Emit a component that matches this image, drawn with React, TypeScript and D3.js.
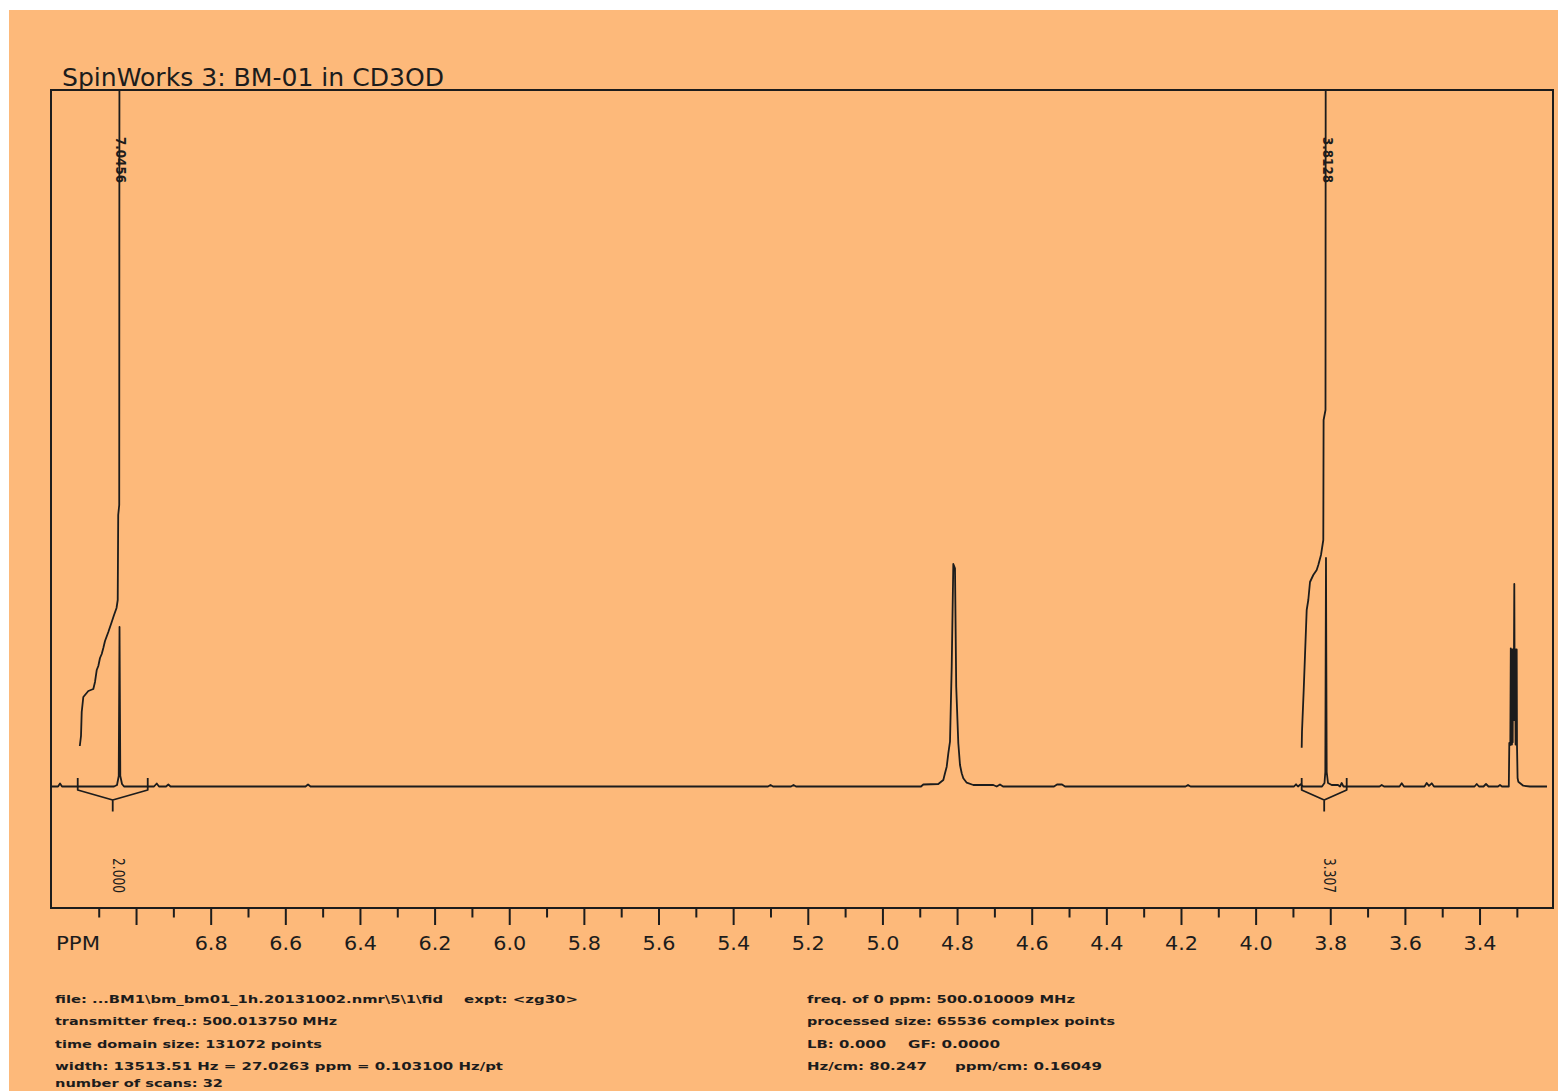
import React from "react";
import * as d3 from "d3";

// ---------- page + frame ----------
const WIDTH = 1558;
const HEIGHT = 1091;
const PAPER = "#fdb97a";
const INK = "#1c1c1c";

const TITLE = "SpinWorks 3: BM-01 in CD3OD";

// ---------- chemical shift axis ----------
const majorTicks = [7.0, 6.8, 6.6, 6.4, 6.2, 6.0, 5.8, 5.6, 5.4, 5.2, 5.0, 4.8, 4.6, 4.4, 4.2, 4.0, 3.8, 3.6, 3.4];
const minorTicks = [7.1, 6.9, 6.7, 6.5, 6.3, 6.1, 5.9, 5.7, 5.5, 5.3, 5.1, 4.9, 4.7, 4.5, 4.3, 4.1, 3.9, 3.7, 3.5, 3.3];
const labelTicks = [6.8, 6.6, 6.4, 6.2, 6.0, 5.8, 5.6, 5.4, 5.2, 5.0, 4.8, 4.6, 4.4, 4.2, 4.0, 3.8, 3.6, 3.4];
const tickLabels = ["6.8", "6.6", "6.4", "6.2", "6.0", "5.8", "5.6", "5.4", "5.2", "5.0", "4.8", "4.6", "4.4", "4.2", "4.0", "3.8", "3.6", "3.4"];
const AXIS_UNIT = "PPM";

// ---------- 1H spectrum trace (ppm, relative intensity) ----------
const specPpm = [
  7.2265, 7.2104, 7.205, 7.1997, 7.0603, 7.0523, 7.0477, 7.0456, 7.0435, 7.0389, 7.0335,
  6.9532, 6.9459, 6.9398, 6.921, 6.9148, 6.9089, 6.5472, 6.5405, 6.5338,
  5.3079, 5.3012, 5.2945, 5.2463, 5.2396, 5.2329,
  4.898, 4.8918, 4.8516, 4.8382, 4.8337, 4.8291, 4.8248, 4.8203, 4.8157, 4.8114, 4.8069, 4.8036,
  4.798, 4.7935, 4.7889, 4.7846, 4.7755, 4.7578, 4.7042, 4.6951, 4.6863, 4.6782,
  4.5416, 4.5335, 4.5201, 4.5121, 4.1892, 4.1825, 4.1758,
  3.8985, 3.8931, 3.8878, 3.8805, 3.8744, 3.8235, 3.8168, 3.8146, 3.8128, 3.8109, 3.8074,
  3.7975, 3.7806, 3.7752, 3.7707, 3.7659, 3.6694, 3.6635, 3.6573, 3.6158, 3.6099, 3.6038,
  3.5488, 3.5429, 3.5368, 3.5295, 3.5234, 3.4148, 3.4089, 3.4028, 3.3907, 3.384, 3.3773,
  3.3519, 3.3465, 3.3412,
  3.3229, 3.3216, 3.3189, 3.3176, 3.3165, 3.3155, 3.3145, 3.3135, 3.3125, 3.3115, 3.31,
  3.3082, 3.307, 3.3058, 3.3048, 3.3038, 3.3028, 3.3018, 3.301,
  3.2994, 3.2975, 3.2841, 3.2661, 3.2206,
];
const specInt = [
  0, 0, 0.0136, 0, 0, 0.0068, 0.0475, 0.722, 0.0475, 0.0113, 0,
  0, 0.0136, 0, 0, 0.009, 0, 0, 0.009, 0,
  0, 0.007, 0, 0, 0.007, 0,
  0, 0.009, 0.0113, 0.0294, 0.0597, 0.0896, 0.1502, 0.2027, 0.5421, 1.007, 0.9873, 0.4516,
  0.1955, 0.0973, 0.0597, 0.0371, 0.0172, 0.0068, 0.0068, 0, 0.009, 0,
  0, 0.009, 0.009, 0, 0, 0.007, 0,
  0, 0.01, 0, 0.01, 0, 0, 0.0158, 0.0656, 1.034, 0.0656, 0.0158,
  0.0068, 0.0068, 0, 0.0158, 0, 0, 0.0068, 0, 0, 0.0145, 0,
  0, 0.0158, 0.003, 0.0145, 0, 0, 0.0113, 0, 0, 0.0113, 0,
  0, 0.0068, 0,
  0, 0.1968, 0.1878, 0.6253, 0.19, 0.62, 0.19, 0.62, 0.2, 0.62, 0.3,
  0.9163, 0.3, 0.62, 0.19, 0.62, 0.19, 0.62, 0.1878,
  0.0385, 0.0217, 0.0036, 0, 0,
];

// ---------- integral traces ----------
const integ1Ppm = [7.152, 7.1488, 7.1469, 7.1426, 7.1292, 7.1158, 7.1113, 7.1067, 7.1024, 7.0979, 7.0933, 7.089, 7.0845, 7.0756, 7.0665, 7.0603, 7.0536, 7.0504, 7.0491, 7.0464, 7.0456];
const integ1Val = [0.1833, 0.2285, 0.3371, 0.405, 0.4321, 0.4412, 0.4729, 0.5271, 0.5452, 0.5814, 0.5995, 0.6267, 0.6584, 0.6991, 0.7443, 0.776, 0.8077, 0.8439, 1.2285, 1.2738, 4.0];
const integ2Ppm = [3.8779, 3.8771, 3.8725, 3.869, 3.8645, 3.8602, 3.8556, 3.8468, 3.8377, 3.8334, 3.8262, 3.82, 3.8192, 3.8141, 3.8133];
const integ2Val = [0.1756, 0.248, 0.4367, 0.595, 0.7986, 0.8439, 0.9253, 0.957, 0.9796, 1.0023, 1.0475, 1.1154, 1.6584, 1.7036, 4.0];

// integration regions (ppm) and their values
const integFrom = [7.1576, 3.8779];
const integTo = [6.97, 3.7573];
const integLabels = ["2.000", "3.307"];

// picked peaks
const peakPpm = [7.0456, 3.8128];
const peakLabels = ["7.0456", "3.8128"];

// ---------- acquisition / processing parameters ----------
const leftInfo = [
  "transmitter freq.: 500.013750 MHz",
  "time domain size: 131072 points",
  "width: 13513.51 Hz = 27.0263 ppm = 0.103100 Hz/pt",
  "number of scans: 32",
];
const leftInfoWidths = [282, 267, 448, 168];
const fileLine = "file: ...BM1\\bm_bm01_1h.20131002.nmr\\5\\1\\fid";
const exptLine = "expt: <zg30>";
const rightInfo = [
  "freq. of 0 ppm: 500.010009 MHz",
  "processed size: 65536 complex points",
];
const rightInfoWidths = [268, 308];
const lbText = "LB: 0.000";
const gfText = "GF: 0.0000";
const hzcmText = "Hz/cm: 80.247";
const ppmcmText = "ppm/cm: 0.16049";

export default function App() {
  const L = 51, T = 90, R = 1553, B = 908;

  const x = d3.scaleLinear().domain([7.2292, 3.2045]).range([L, R]);
  const y = d3.scaleLinear().domain([-0.5498, 3.1516]).range([B, T]);

  const line = d3
    .line<[number, number]>()
    .x((d) => x(d[0]))
    .y((d) => y(d[1]));

  const spectrum = line(specPpm.map((p, i) => [p, specInt[i]] as [number, number])) || "";
  const integ1 = line(integ1Ppm.map((p, i) => [p, integ1Val[i]] as [number, number])) || "";
  const integ2 = line(integ2Ppm.map((p, i) => [p, integ2Val[i]] as [number, number])) || "";

  const y0 = y(0);

  const bracket = (from: number, to: number) => {
    const xl = x(from);
    const xr = x(to);
    const xc = (xl + xr) / 2;
    return (
      `M${xl},${y0 - 8.5}V${y0 + 3.5}L${xc},${y0 + 13.5}V${y0 + 25}` +
      `M${xc},${y0 + 13.5}L${xr},${y0 + 3.5}M${xr},${y0 - 8.5}V${y0 + 4}`
    );
  };

  const font = "'DejaVu Sans', Verdana, sans-serif";
  const rowY = [1002.5, 1025, 1047.5, 1070, 1087];

  return (
    <svg
      width={WIDTH}
      height={HEIGHT}
      viewBox={`0 0 ${WIDTH} ${HEIGHT}`}
      style={{ position: "absolute", left: 0, top: 0, display: "block" }}
    >
      <defs>
        <clipPath id="plot-area">
          <rect x={L} y={T} width={R - L} height={B - T} />
        </clipPath>
      </defs>
      <rect x={0} y={0} width={WIDTH} height={HEIGHT} fill="#ffffff" />
      <rect x={9} y={10} width={WIDTH - 9} height={HEIGHT - 10} fill={PAPER} />

      {/* title */}
      <text x={62} y={86} fontFamily={font} fontSize={24} fill={INK} textLength={382} lengthAdjust="spacingAndGlyphs">
        {TITLE}
      </text>

      {/* spectrum, integrals */}
      <g clipPath="url(#plot-area)" fill="none" stroke={INK} strokeWidth={1.8} strokeLinejoin="round">
        <path d={spectrum} />
        <path d={integ1} />
        <path d={integ2} />
        {integFrom.map((f, i) => (
          <path key={i} d={bracket(f, integTo[i])} />
        ))}
      </g>

      {/* peak labels */}
      {peakPpm.map((p, i) => (
        <text
          key={i}
          transform={`translate(${x(p) - 3.4},137) rotate(90)`}
          fontFamily={font}
          fontSize={14}
          fontWeight="bold"
          fill={INK}
          textLength={46}
          lengthAdjust="spacingAndGlyphs"
        >
          {peakLabels[i]}
        </text>
      ))}

      {/* integral values */}
      {integFrom.map((f, i) => (
        <text
          key={i}
          transform={`translate(${(x(f) + x(integTo[i])) / 2},858) rotate(90)`}
          fontFamily={font}
          fontSize={16}
          fill={INK}
          textLength={35}
          lengthAdjust="spacingAndGlyphs"
        >
          {integLabels[i]}
        </text>
      ))}

      {/* frame */}
      <rect x={L} y={T} width={R - L} height={B - T} fill="none" stroke={INK} strokeWidth={2} />

      {/* axis ticks */}
      <g stroke={INK} strokeWidth={2}>
        {majorTicks.map((t) => (
          <line key={`M${t}`} x1={x(t)} x2={x(t)} y1={B} y2={B + 17} />
        ))}
        {minorTicks.map((t) => (
          <line key={`m${t}`} x1={x(t)} x2={x(t)} y1={B} y2={B + 9.5} />
        ))}
      </g>
      <g fontFamily={font} fontSize={19} fill={INK}>
        {labelTicks.map((t, i) => (
          <text key={t} x={x(t)} y={950} textAnchor="middle" textLength={33} lengthAdjust="spacingAndGlyphs">
            {tickLabels[i]}
          </text>
        ))}
        <text x={56} y={950} textLength={44} lengthAdjust="spacingAndGlyphs">
          {AXIS_UNIT}
        </text>
      </g>

      {/* parameters */}
      <g fontFamily={font} fontSize={11} fontWeight="bold" fill={INK}>
        <text x={55} y={rowY[0]} textLength={388} lengthAdjust="spacingAndGlyphs">
          {fileLine}
        </text>
        <text x={464} y={rowY[0]} textLength={114} lengthAdjust="spacingAndGlyphs">
          {exptLine}
        </text>
        {leftInfo.map((s, i) => (
          <text key={s} x={55} y={rowY[i + 1]} textLength={leftInfoWidths[i]} lengthAdjust="spacingAndGlyphs">
            {s}
          </text>
        ))}
        {rightInfo.map((s, i) => (
          <text key={s} x={807} y={rowY[i]} textLength={rightInfoWidths[i]} lengthAdjust="spacingAndGlyphs">
            {s}
          </text>
        ))}
        <text x={807} y={rowY[2]} textLength={79} lengthAdjust="spacingAndGlyphs">
          {lbText}
        </text>
        <text x={908} y={rowY[2]} textLength={92} lengthAdjust="spacingAndGlyphs">
          {gfText}
        </text>
        <text x={807} y={rowY[3]} textLength={120} lengthAdjust="spacingAndGlyphs">
          {hzcmText}
        </text>
        <text x={955} y={rowY[3]} textLength={147} lengthAdjust="spacingAndGlyphs">
          {ppmcmText}
        </text>
      </g>
    </svg>
  );
}
